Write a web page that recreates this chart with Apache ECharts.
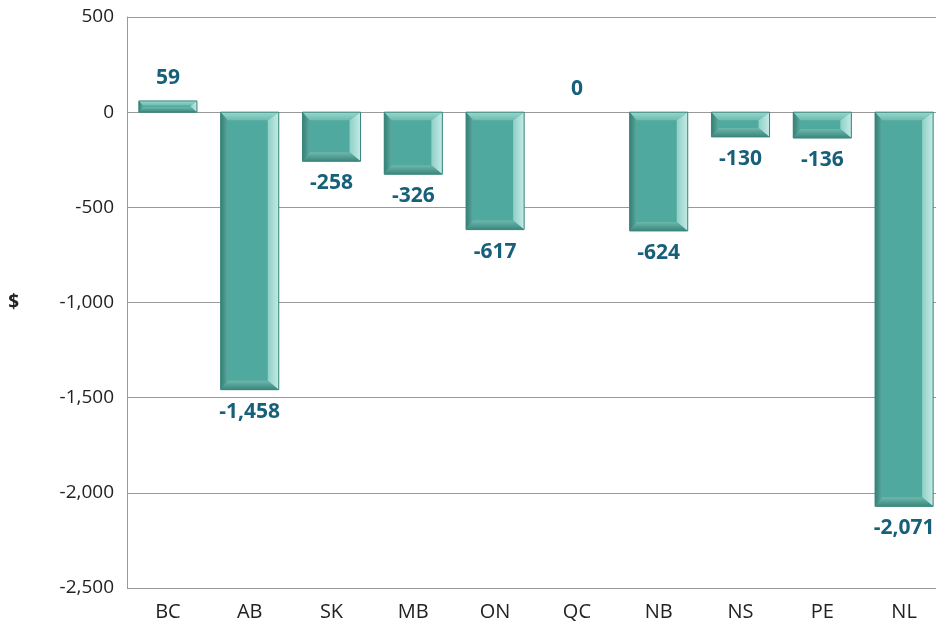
<!DOCTYPE html>
<html lang="en">
<head>
<meta charset="UTF-8">
<title>Provinces</title>
<script src="https://cdn.jsdelivr.net/npm/echarts@6/dist/echarts.min.js"></script>
<style>
  html, body { margin: 0; padding: 0; background: #fff; overflow: hidden; }
  #main { width: 945px; height: 628px; }
</style>
</head>
<body>
<div id="main"></div>
<script>
var provinces = ['BC', 'AB', 'SK', 'MB', 'ON', 'QC', 'NB', 'NS', 'PE', 'NL'];
var amounts = [59, -1458, -258, -326, -617, 0, -624, -130, -136, -2071];

function fmt(n) {
    var s = String(Math.abs(n)).replace(/\B(?=(\d{3})+(?!\d))/g, ',');
    return (n < 0 ? '-' : '') + s;
}

function grad(x0, y0, x1, y1, c0, c1) {
    return new echarts.graphic.LinearGradient(x0, y0, x1, y1, [
        { offset: 0, color: c0 }, { offset: 1, color: c1 }]);
}

var chart = echarts.init(document.getElementById('main'));

function renderBar(params, api) {
    var i = api.value(0), v = api.value(1);
    var p0 = api.coord([i, 0]);
    var p1 = api.coord([i, v]);
    var w = api.size([1, 0])[0] * 0.71;
    var x0 = p0[0] - w / 2, x1 = p0[0] + w / 2;
    var top = Math.min(p0[1], p1[1]), bot = Math.max(p0[1], p1[1]);
    var h = bot - top;
    var kids = [];
    if (h > 0.5) {
        var k = Math.min(1, h / 20);
        var bl = 7 * k, br = 11 * k, bt = 8 * k, bb = 9 * k;
        kids.push({ type: 'rect', shape: { x: x0, y: top, width: w, height: h },
            style: { fill: '#4fa99f' } });
        // top bevel
        kids.push({ type: 'polygon', shape: { points: [[x0, top], [x1, top], [x1 - br, top + bt], [x0 + bl, top + bt]] },
            style: { fill: grad(0, 0, 0, 1, '#9ad6cc', '#6dbcb1') } });
        // right bevel
        kids.push({ type: 'polygon', shape: { points: [[x1, top], [x1, bot], [x1 - br, bot - bb], [x1 - br, top + bt]] },
            style: { fill: grad(0, 0, 1, 0, '#8fd0c6', '#c4ebe5') } });
        // bottom bevel
        kids.push({ type: 'polygon', shape: { points: [[x0, bot], [x1, bot], [x1 - br, bot - bb], [x0 + bl, bot - bb]] },
            style: { fill: grad(0, 0, 0, 1, '#6eb7ad', '#3a877d') } });
        // left bevel
        kids.push({ type: 'polygon', shape: { points: [[x0, top], [x0, bot], [x0 + bl, bot - bb], [x0 + bl, top + bt]] },
            style: { fill: grad(0, 0, 1, 0, '#357f76', '#5aa89e') } });
        kids.push({ type: 'rect', shape: { x: x0, y: top, width: w, height: h },
            style: { fill: 'none', stroke: '#3a857b', lineWidth: 1 } });
    }
    var ly = v >= 0 ? top - 23 : bot + 22;
    kids.push({ type: 'text', style: { text: fmt(v), x: p0[0], y: ly,
        align: 'center', verticalAlign: 'middle',
        font: 'bold 21px "Open Sans", sans-serif', fill: '#17607a' } });
    return { type: 'group', children: kids };
}

var option = {
    animation: false,
    grid: { left: 127, right: 0, top: 17, bottom: 40 },
    xAxis: {
        type: 'category',
        data: provinces,
        axisLine: { show: false },
        axisTick: { show: false },
        axisLabel: { color: '#222', fontSize: 20, margin: 14, fontFamily: 'Open Sans' }
    },
    yAxis: {
        type: 'value',
        min: -2500,
        max: 500,
        interval: 500,
        name: '$',
        nameLocation: 'middle',
        nameRotate: 0,
        nameGap: 108,
        nameTextStyle: { color: '#222', fontSize: 19, fontWeight: 'bold', fontFamily: 'Open Sans' },
        axisLine: { show: true, lineStyle: { color: '#999', width: 1 } },
        axisTick: { show: false },
        splitLine: { lineStyle: { color: '#999', width: 1 } },
        axisLabel: { color: '#222', fontSize: 19, margin: 13, fontFamily: 'Open Sans',
            formatter: function (v) { return fmt(v); } }
    },
    series: [{
        type: 'custom',
        renderItem: renderBar,
        encode: { x: 0, y: 1 },
        data: amounts.map(function (v, i) { return [i, v]; })
    }]
};
chart.setOption(option);
</script>
</body>
</html>
